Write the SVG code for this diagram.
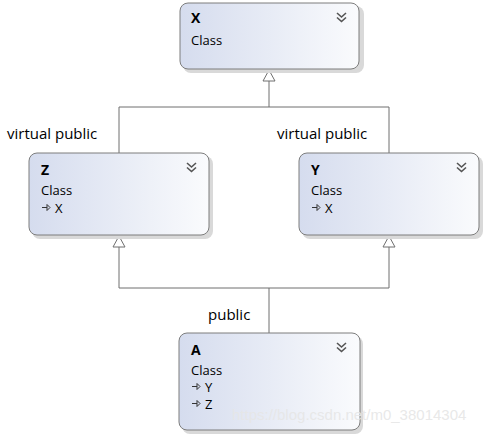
<svg xmlns="http://www.w3.org/2000/svg" width="490" height="439" viewBox="0 0 490 439">
<style>
.box{fill:url(#g);stroke:#7d7d7d;stroke-width:1}
.sh{fill:#d9d9d9}
.t{font-family:"Open Sans","Segoe UI","DejaVu Sans",sans-serif;font-size:13px;fill:#000}
.b{font-weight:bold;font-size:14px}
.lbl{font-family:"Open Sans","Segoe UI","DejaVu Sans",sans-serif;font-size:15px;fill:#000}
.chev{fill:none;stroke:#555;stroke-width:1.6}
.ico{fill:none;stroke:#333;stroke-width:1}
.con{fill:none;stroke:#6e6e6e;stroke-width:1}
.wm{font-family:"Liberation Sans",Arial,sans-serif;font-size:15px;fill:#e6e6e6;fill-opacity:0.9}
</style>
<defs>
<linearGradient id="g" x1="0" y1="0" x2="1" y2="0">
<stop offset="0" stop-color="#d5dcee"/>
<stop offset="1" stop-color="#fafbfd"/>
</linearGradient>
<marker id="tri" viewBox="0 0 12 14" refX="11.5" refY="7" markerWidth="12" markerHeight="14" markerUnits="userSpaceOnUse" orient="auto">
<path d="M11.5,7 L0.5,1 L0.5,13 Z" fill="#fff" stroke="#6e6e6e"/>
</marker>
<g id="chv"><path class="chev" d="M0,0 L4.5,4 L9,0 M0,4.5 L4.5,8.5 L9,4.5"/></g>
<g id="arr"><path class="ico" d="M0,3.5 H5 M5,0.5 L8,3.5 L5,6.5 Z"/></g>
</defs>
<g id="connectors">
<path class="con" d="M119,153 V107 H389 V153"/>
<path class="con" d="M269,107 V70" marker-end="url(#tri)"/>
<path class="con" d="M269,333 V288"/>
<path class="con" d="M119,288 H389"/>
<path class="con" d="M119,288 V236" marker-end="url(#tri)"/>
<path class="con" d="M389,288 V236" marker-end="url(#tri)"/>
<text class="lbl" x="7" y="139">virtual public</text>
<text class="lbl" x="277" y="139">virtual public</text>
<text class="lbl" x="208" y="320">public</text>
</g>
<g id="X">
<rect class="sh" x="183" y="6" width="181" height="67" rx="8"/>
<rect class="box" x="180" y="3" width="179" height="66" rx="8"/>
<text class="t b" x="191" y="23">X</text>
<text class="t" x="191" y="45">Class</text>
<use href="#chv" x="337" y="13"/>
</g>
<g id="Z">
<rect class="sh" x="32" y="156" width="181" height="83" rx="8"/>
<rect class="box" x="29" y="153" width="180" height="82" rx="8"/>
<text class="t b" x="41" y="175">Z</text>
<text class="t" x="41" y="195">Class</text>
<use href="#arr" x="42" y="204"/>
<text class="t" x="55" y="213">X</text>
<use href="#chv" x="187" y="163"/>
</g>
<g id="Y">
<rect class="sh" x="302" y="156" width="181" height="83" rx="8"/>
<rect class="box" x="299" y="153" width="180" height="82" rx="8"/>
<text class="t b" x="311" y="175">Y</text>
<text class="t" x="311" y="195">Class</text>
<use href="#arr" x="312" y="204"/>
<text class="t" x="325" y="213">X</text>
<use href="#chv" x="457" y="163"/>
</g>
<g id="A">
<rect class="sh" x="182" y="336" width="181" height="98" rx="8"/>
<rect class="box" x="179" y="333" width="181" height="97" rx="8"/>
<text class="t b" x="191" y="355">A</text>
<text class="t" x="191" y="375">Class</text>
<use href="#arr" x="192" y="383"/>
<text class="t" x="205" y="392">Y</text>
<use href="#arr" x="192" y="400"/>
<text class="t" x="205" y="409">Z</text>
<use href="#chv" x="337" y="343"/>
</g>
<text class="wm" x="232" y="420">https://blog.csdn.net/m0_38014304</text>
</svg>
